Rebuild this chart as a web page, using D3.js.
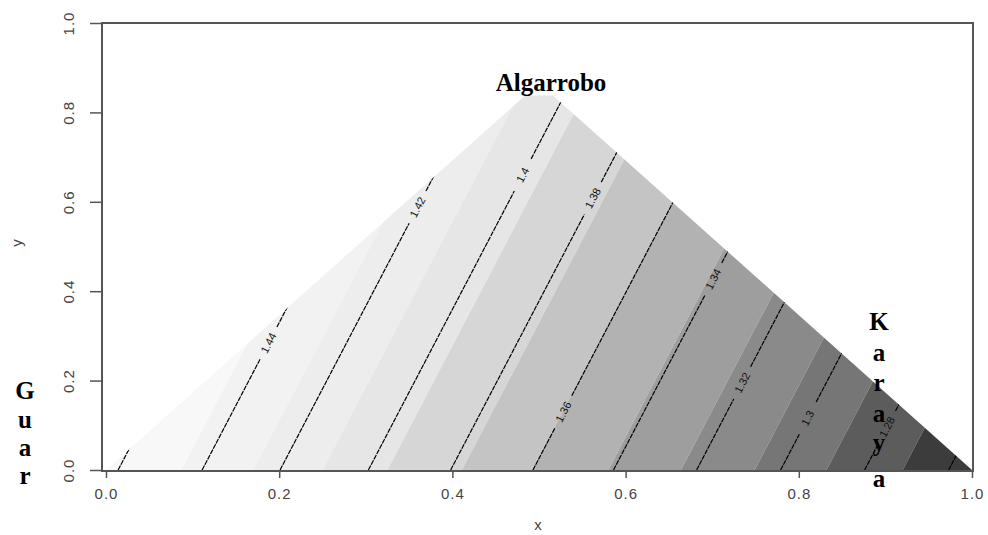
<!DOCTYPE html>
<html>
<head>
<meta charset="utf-8">
<script src="https://cdn.jsdelivr.net/npm/d3@7"></script>
<style>
  body { margin: 0; background: #fff; }
  svg { display: block; }
  .tick text { font-family: "Liberation Sans", Arial, sans-serif; font-size: 15px; fill: #444; letter-spacing: 1px; }
  .tick line { stroke: #555; stroke-width: 1.5; }
  .lbl { font-family: "Liberation Sans", Arial, sans-serif; font-size: 11px; fill: #111; }
  .comp { font-family: "Liberation Serif", "Times New Roman", serif; font-weight: bold; font-size: 25px; fill: #000; }
</style>
</head>
<body>
<svg width="988" height="535"></svg>
<script>
// contour levels and where each line meets y = 0 / y = 1
var levels    = [1.46, 1.44, 1.42, 1.40, 1.38, 1.36, 1.34, 1.32, 1.30, 1.28, 1.26];
var lineBase  = [0.014, 0.111, 0.201, 0.303, 0.398, 0.493, 0.586, 0.682, 0.779, 0.876, 0.973];
var lineTop   = [0.284, 0.381, 0.471, 0.573, 0.668, 0.763, 0.856, 0.952, 1.049, 1.146, 1.243];
var labelText = ["", "1.44", "1.42", "1.4", "1.38", "1.36", "1.34", "1.32", "1.3", "1.28", ""];
var labelY    = [null, 0.284, 0.588, 0.66, 0.608, 0.13, 0.427, 0.195, 0.116, 0.096, null];

// filled bands: boundary x at y = 0 and gray of each band
var bandBase  = [0.087, 0.170, 0.250, 0.325, 0.411, 0.492, 0.580, 0.664, 0.749, 0.832, 0.920];
var bandShift = 0.27;
var bandGray  = ["#f8f8f8", "#f2f2f2", "#ededed", "#e6e6e6", "#d6d6d6", "#c4c4c4",
                 "#b2b2b2", "#9e9e9e", "#8a8a8a", "#767676", "#5c5c5c", "#3c3c3c"];

// mixture region (triangle, apex cut where the raster stops)
var region = [[0, 0], [1, 0], [0.516, 0.838], [0.484, 0.838]];

var xTicks = [0, 0.2, 0.4, 0.6, 0.8, 1.0];
var yTicks = [0, 0.2, 0.4, 0.6, 0.8, 1.0];

var svg = d3.select("svg");

var x = d3.scaleLinear().domain([0, 1]).range([106, 972]);
var y = d3.scaleLinear().domain([0, 1]).range([470, 23]);

var line = d3.line().x(function(d) { return x(d[0]); }).y(function(d) { return y(d[1]); });

svg.append("clipPath").attr("id", "tri")
  .append("path").attr("d", line(region) + "Z");

var g = svg.append("g").attr("clip-path", "url(#tri)");

// bands
var edges = [-1].concat(bandBase).concat([2]);
g.selectAll("path.band")
  .data(bandGray)
  .enter().append("path")
  .attr("class", "band")
  .attr("fill", function(d) { return d; })
  .attr("d", function(d, i) {
    var a = edges[i], b = edges[i + 1];
    return line([[a, 0], [b, 0], [b + bandShift, 1], [a + bandShift, 1]]) + "Z";
  });

// contour lines, with a gap where the label sits
var gap = 0.036;
levels.forEach(function(lv, i) {
  var at = function(t) { return [lineBase[i] + (lineTop[i] - lineBase[i]) * t, t]; };
  var segs = labelY[i] == null ? [[0, 1]] : [[0, labelY[i] - gap], [labelY[i] + gap, 1]];
  segs.forEach(function(s) {
    g.append("path")
      .attr("d", line([at(s[0]), at(s[1])]))
      .attr("fill", "none")
      .attr("stroke", "#000")
      .attr("stroke-width", 1.2)
      .attr("stroke-dasharray", "5 1");
  });
  if (labelY[i] != null) {
    var p = at(labelY[i]);
    var ang = Math.atan2(y(0) - y(1), x(lineTop[i]) - x(lineBase[i])) * 180 / Math.PI;
    g.append("text")
      .attr("class", "lbl")
      .attr("transform", "translate(" + x(p[0]) + "," + y(p[1]) + ") rotate(" + (-ang) + ")")
      .attr("text-anchor", "middle")
      .attr("dy", "0.35em")
      .text(labelText[i]);
  }
});

// frame
svg.append("rect")
  .attr("x", 102).attr("y", 23)
  .attr("width", 871).attr("height", 448)
  .attr("fill", "none").attr("stroke", "#555").attr("stroke-width", 2);

// axes
var xAxis = svg.append("g")
  .attr("transform", "translate(0,471)")
  .call(d3.axisBottom(x).tickValues(xTicks).tickFormat(d3.format(".1f")).tickSize(7).tickPadding(10));
xAxis.select(".domain").remove();

var yAxis = svg.append("g")
  .attr("transform", "translate(102,0)")
  .call(d3.axisLeft(y).tickValues(yTicks).tickFormat(d3.format(".1f")).tickSize(12).tickPadding(0));
yAxis.select(".domain").remove();
yAxis.selectAll(".tick text")
  .attr("text-anchor", "middle")
  .attr("transform", "translate(-33,0) rotate(-90)")
  .attr("x", 0).attr("dy", "0.35em");

svg.append("text")
  .attr("x", 538).attr("y", 530)
  .attr("text-anchor", "middle")
  .style("font-family", "Liberation Sans, Arial, sans-serif").style("font-size", "15px").style("fill", "#444")
  .text("x");
svg.append("text")
  .attr("transform", "translate(22,243) rotate(-90)")
  .attr("text-anchor", "middle")
  .style("font-family", "Liberation Sans, Arial, sans-serif").style("font-size", "15px").style("fill", "#444")
  .text("y");

// component names
svg.append("text").attr("class", "comp")
  .attr("x", 551).attr("y", 91).attr("text-anchor", "middle")
  .text("Algarrobo");

var guar = ["G", "u", "a", "r"], guarY = [399, 428, 456, 484];
svg.selectAll("text.guar").data(guar).enter().append("text")
  .attr("class", "comp guar")
  .attr("x", 25).attr("y", function(d, i) { return guarY[i]; })
  .attr("text-anchor", "middle")
  .text(function(d) { return d; });

var karaya = ["K", "a", "r", "a", "y", "a"], karayaY = [330, 361, 391, 422, 451, 487];
svg.selectAll("text.kar").data(karaya).enter().append("text")
  .attr("class", "comp kar")
  .attr("x", 879).attr("y", function(d, i) { return karayaY[i]; })
  .attr("text-anchor", "middle")
  .text(function(d) { return d; });
</script>
</body>
</html>
